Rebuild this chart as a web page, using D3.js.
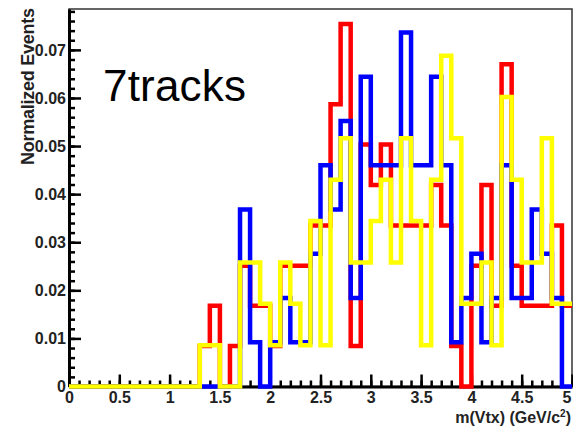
<!DOCTYPE html>
<html>
<head>
  <meta charset="UTF-8">
  <title>7tracks vertex mass</title>
  <style>
    body { margin: 0; background: #fff; }
    .axis text { font-family: "Liberation Sans", Arial, sans-serif; font-weight: bold; font-size: 16px; fill: #222; }
    .axis path, .axis line { stroke: #000; }
    .hist { fill: none; stroke-width: 4.5; stroke-linejoin: miter; }
  </style>
</head>
<body>
<svg id="chart" width="573" height="426"></svg>

<script src="https://d3js.org/d3.v7.min.js"></script>
<script>
  // lower edge of every 0.1 GeV bin
  const binLow = [0.0, 0.1, 0.2, 0.3, 0.4, 0.5, 0.6, 0.7, 0.8, 0.9,
                  1.0, 1.1, 1.2, 1.3, 1.4, 1.5, 1.6, 1.7, 1.8, 1.9,
                  2.0, 2.1, 2.2, 2.3, 2.4, 2.5, 2.6, 2.7, 2.8, 2.9,
                  3.0, 3.1, 3.2, 3.3, 3.4, 3.5, 3.6, 3.7, 3.8, 3.9,
                  4.0, 4.1, 4.2, 4.3, 4.4, 4.5, 4.6, 4.7, 4.8, 4.9];
  const xMax = 5;

  // normalized events per bin
  const redVals = [0, 0, 0, 0, 0, 0, 0, 0, 0, 0,
                   0, 0, 0, 0.0084, 0.0168, 0, 0.0084, 0.0251, 0.0168, 0.0168,
                   0.0084, 0.0251, 0.0251, 0.0251, 0.0335, 0.0335, 0.0587, 0.0754, 0.0084, 0.0503,
                   0.0419, 0.0503, 0.0335, 0.0335, 0.0335, 0.0335, 0.0419, 0.0335, 0.0084, 0,
                   0.0251, 0.0419, 0.0168, 0.067, 0.0251, 0.0168, 0.0168, 0.0168, 0.0335, 0.0168];
  const blueVals = [0, 0, 0, 0, 0, 0, 0, 0, 0, 0,
                    0, 0, 0, 0, 0, 0, 0, 0.0368, 0.0092, 0,
                    0.0092, 0.0184, 0.0092, 0.0092, 0.0276, 0.046, 0.0368, 0.0552, 0.0184, 0.0644,
                    0.046, 0.046, 0.046, 0.0736, 0.046, 0.046, 0.0644, 0.046, 0.0092, 0.0184,
                    0.0276, 0.0092, 0.0184, 0.046, 0.0184, 0.0184, 0.0368, 0.0276, 0.0184, 0];
  const yellowVals = [0, 0, 0, 0, 0, 0, 0, 0, 0, 0,
                      0, 0, 0, 0.0086, 0.0086, 0, 0, 0.0258, 0.0258, 0.0172,
                      0.0086, 0.0258, 0.0172, 0.0086, 0.0344, 0.0086, 0.043, 0.0516, 0.0258, 0.0258,
                      0.0344, 0.043, 0.0258, 0.0516, 0.0344, 0.0086, 0.043, 0.0688, 0.0516, 0.0172,
                      0.0172, 0.0258, 0.0086, 0.0602, 0.043, 0.0258, 0.0258, 0.0516, 0.0172, 0.0172];

  const xTicks = [0, 0.5, 1, 1.5, 2, 2.5, 3, 3.5, 4, 4.5, 5];
  const xTickLabels = ["0", "0.5", "1", "1.5", "2", "2.5", "3", "3.5", "4", "4.5", "5"];
  const yTicks = [0, 0.01, 0.02, 0.03, 0.04, 0.05, 0.06, 0.07];
  const yTickLabels = ["0", "0.01", "0.02", "0.03", "0.04", "0.05", "0.06", "0.07"];

  const series = [
    { vals: redVals, color: "#ff0000" },
    { vals: blueVals, color: "#0000ff" },
    { vals: yellowVals, color: "#ffff00" }
  ];

  let svg = d3.select("#chart");

  let x = d3.scaleLinear().domain([0, xMax]).range([69, 572]);
  let y = d3.scaleLinear().domain([0, 0.0785]).range([386.5, 9]);

  // frame (top and right)
  svg.append("rect")
    .attr("x", x(0)).attr("y", y.range()[1])
    .attr("width", x(xMax) - x(0)).attr("height", y.range()[0] - y.range()[1])
    .attr("fill", "none").attr("stroke", "#333").attr("stroke-width", 1.5);

  // minor ticks
  svg.append("g")
    .attr("class", "axis")
    .attr("transform", "translate(" + x(0) + ",0)")
    .call(d3.axisLeft(y).tickValues(d3.range(0, 0.0785, 0.002)).tickSize(-6).tickFormat(""))
    .call(g => g.select(".domain").remove())
    .selectAll("line").attr("stroke-width", 2.5);

  svg.append("g")
    .attr("class", "axis")
    .attr("transform", "translate(0," + y(0) + ")")
    .call(d3.axisBottom(x).tickValues(d3.range(0, 5.01, 0.1)).tickSize(-6).tickFormat(""))
    .call(g => g.select(".domain").remove())
    .selectAll("line").attr("stroke-width", 2.5);

  // major ticks + labels
  let yAxis = svg.append("g")
    .attr("class", "axis")
    .attr("transform", "translate(" + x(0) + ",0)")
    .call(d3.axisLeft(y).tickValues(yTicks).tickSizeInner(-12).tickSizeOuter(0).tickPadding(3)
      .tickFormat((d, i) => yTickLabels[i]));
  yAxis.select(".domain").attr("stroke-width", 3);
  yAxis.selectAll("line").attr("stroke-width", 2.5);

  let xAxis = svg.append("g")
    .attr("class", "axis")
    .attr("transform", "translate(0," + y(0) + ")")
    .call(d3.axisBottom(x).tickValues(xTicks).tickSizeInner(-12).tickSizeOuter(0).tickPadding(5)
      .tickFormat((d, i) => xTickLabels[i]));
  xAxis.select(".domain").attr("stroke-width", 3);
  xAxis.selectAll("line").attr("stroke-width", 2.5);
  // last label sits at the window edge, keep it inside
  xAxis.selectAll(".tick text").filter(d => d === xMax).attr("text-anchor", "end").attr("dx", -1);

  // histograms as steps
  let line = d3.line()
    .x(d => x(d[0]))
    .y(d => y(d[1]))
    .curve(d3.curveStepAfter);

  series.forEach(s => {
    let pts = binLow.map((b, i) => [b, s.vals[i]]);
    pts.push([xMax, s.vals[s.vals.length - 1]]);
    svg.append("path")
      .attr("class", "hist")
      .attr("stroke", s.color)
      .attr("d", line(pts));
  });

  // axis titles
  svg.append("text")
    .attr("transform", "translate(34,165) rotate(-90)")
    .attr("textLength", 157)
    .style("font-family", "'Liberation Sans', Arial, sans-serif")
    .style("font-weight", "bold")
    .style("font-size", "18px")
    .style("fill", "#222")
    .text("Normalized Events");

  let xt = svg.append("text")
    .attr("x", 571).attr("y", 423)
    .attr("text-anchor", "end")
    .style("font-family", "'Liberation Sans', Arial, sans-serif")
    .style("font-weight", "bold")
    .style("font-size", "16px")
    .style("fill", "#222");
  xt.append("tspan").text("m(Vtx) (GeV/c");
  xt.append("tspan").attr("dy", -6).style("font-size", "10px").text("2");
  xt.append("tspan").attr("dy", 6).text(")");

  // overlay label
  svg.append("text")
    .attr("x", 103).attr("y", 101)
    .attr("textLength", 143)
    .style("font-family", "'Liberation Sans', Arial, sans-serif")
    .style("font-size", "44px")
    .style("fill", "#000")
    .text("7tracks");
</script>
</body>
</html>
